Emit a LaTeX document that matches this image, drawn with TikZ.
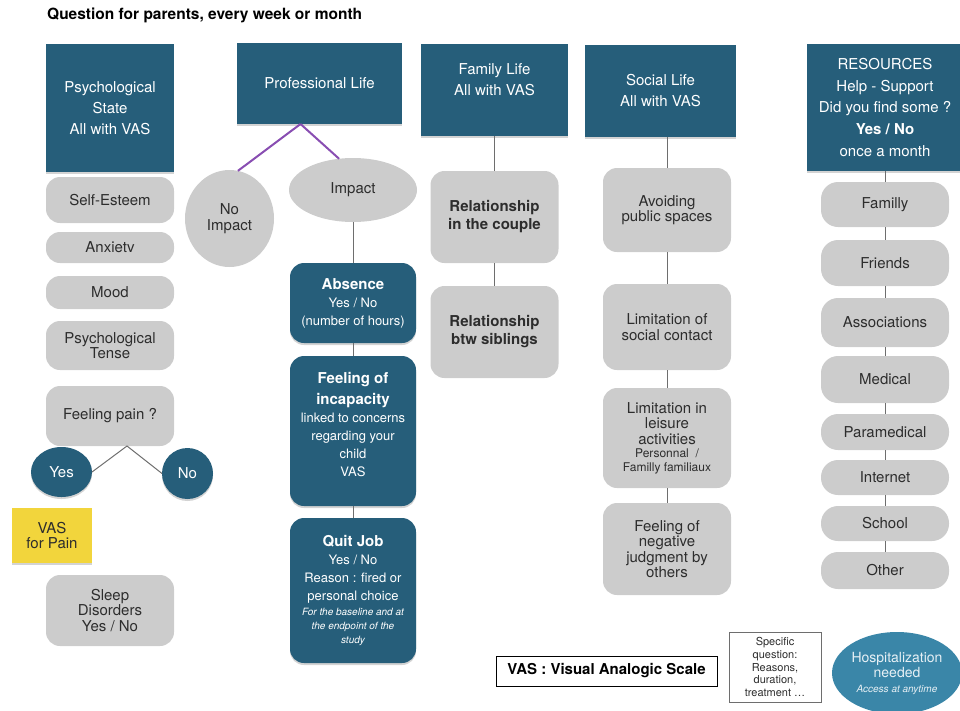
\documentclass[tikz,border=0pt]{standalone}
\usepackage{fontspec}
\setmainfont{TeX Gyre Heros}
\usetikzlibrary{
    positioning,
    shapes.geometric,
    shadows
}
\newcommand\fsz[2]{\fontsize{#1}{#2}\selectfont}
\definecolor{hdrblue}{RGB}{38,94,122}
\definecolor{hospblue}{RGB}{58,134,168}
\definecolor{boxgray}{RGB}{204,204,204}
\definecolor{txtgray}{RGB}{45,45,45}
\definecolor{pinyel}{RGB}{242,213,60}
\definecolor{linkpurple}{RGB}{137,78,178}
\definecolor{linegray}{RGB}{110,110,110}
\tikzset{
    hdr/.style = {
        rectangle,
        fill = hdrblue,
        text = white,
        inner sep = 0pt,
        outer sep = 0pt,
        align = center,
        font = \fsz{15}{21},
        drop shadow = {opacity = .35, shadow xshift = 0pt, shadow yshift = -2pt}
    },
    grey/.style = {
        rectangle,
        rounded corners = 14pt,
        fill = boxgray,
        text = txtgray,
        minimum width = 128pt,
        inner sep = 0pt,
        outer sep = 0pt,
        align = center,
        font = \fsz{15}{15.5}
    },
    pill/.style = {
        grey,
        rounded corners = 17pt
    },
    bubble/.style = {
        ellipse,
        fill = boxgray,
        text = txtgray,
        inner sep = 0pt,
        outer sep = 0pt,
        align = center,
        font = \fsz{15}{15.5}
    },
    deep/.style = {
        rectangle,
        rounded corners = 14pt,
        fill = hdrblue,
        text = white,
        minimum width = 126pt,
        inner sep = 0pt,
        outer sep = 0pt,
        align = center,
        font = \fsz{13}{18},
        drop shadow = {opacity = .35, shadow xshift = 0pt, shadow yshift = -2pt}
    },
    dot/.style = {
        ellipse,
        fill = hdrblue,
        text = white,
        inner sep = 0pt,
        outer sep = 0pt,
        font = \fsz{15}{15.5},
        drop shadow = {opacity = .35, shadow xshift = 0pt, shadow yshift = -2pt}
    },
    link/.style = {
        draw = linegray,
        line width = 1pt
    },
    prolink/.style = {
        draw = linkpurple,
        line width = 2pt
    }
}
\newcommand\bighead[1]{{\fsz{15}{22}\bfseries #1}}
\newcommand\smallnote[1]{{\fsz{10}{14.5}\itshape #1}}
\newcommand\smallline[1]{{\fsz{12}{14}#1}}

\begin{document}
\begin{tikzpicture}[
                        x = 1pt,
                        y = -1pt
                    ]
    \useasboundingbox (0,0) rectangle (960,710);

    \node[anchor = west, inner sep = 0pt, font = \fsz{15.5}{18}\bfseries] (title) at (47,15)
        {Question for parents, every week or month};

    % psychological state
    \node[hdr, minimum width = 128pt, minimum height = 128pt] (psy) at (110,108)
        {Psychological\\State\\All with VAS};
    \node[grey, minimum height = 46pt] (esteem) at (110,200) {Self-Esteem};
    \node[grey, minimum height = 31pt, below = 9pt of esteem] (anx) {Anxietv};
    \node[grey, minimum height = 33pt, below = 13pt of anx] (mood) {Mood};
    \node[grey, minimum height = 49pt, below = 12pt of mood] (tense) {Psychological\\Tense};
    \node[grey, minimum height = 60pt, below = 16pt of tense] (pain) {Feeling pain ?};
    \node[dot, minimum width = 61pt, minimum height = 50pt] (yes) at (61.5,472) {Yes};
    \node[dot, minimum width = 51pt, minimum height = 51pt] (no) at (187.5,473.5) {No};
    \node[rectangle, fill = pinyel, text = txtgray, minimum width = 80pt, minimum height = 55pt,
          inner sep = 0pt, align = center, font = \fsz{15}{15.5},
          drop shadow = {opacity = .35, shadow xshift = 0pt, shadow yshift = -2pt}]
          (vaspain) at (52,535.5) {VAS\\for Pain};
    \node[grey, minimum height = 71pt] (sleep) at (110,610.5) {Sleep\\Disorders\\Yes / No};

    \coordinate (fork) at ([xshift = 17pt]pain.south);
    \draw[link] (yes.east) -- (fork) -- (no.west);

    % professional life
    \node[hdr, minimum width = 165pt, minimum height = 81pt] (pro) at (319.5,83.5) {Professional Life};
    \node[bubble, minimum width = 89pt, minimum height = 97pt] (noimp) at (229.5,218.5) {No\\Impact};
    \node[bubble, minimum width = 128pt, minimum height = 64pt] (imp) at (353,190) {Impact};
    \node[deep, minimum height = 80pt] (abs) at (353,303)
        {\bighead{Absence}\\Yes / No\\(number of hours)};
    \node[deep, minimum height = 150pt, below = 13pt of abs] (incap)
        {\bighead{Feeling of}\\[3pt]\bighead{incapacity}\\linked to concerns\\regarding your\\child\\VAS\\[-4pt]\mbox{}};
    \node[deep, minimum height = 145pt, below = 12pt of incap] (quit)
        {\bighead{Quit Job}\\Yes / No\\Reason : fired or\\personal choice\\[-3pt]
         \smallnote{For the baseline and at}\\[-4pt]\smallnote{the endpoint of the}\\[-4pt]\smallnote{study}};

    \coordinate (split) at ([xshift = -19pt]pro.south);
    \draw[prolink] (split) -- (noimp.80);
    \draw[prolink] (split) -- (imp.114);
    \draw[link] (imp) -- (abs);
    \draw[link] (abs) -- (incap);
    \draw[link] (incap) -- (quit);

    % family life
    \node[hdr, minimum width = 147pt, minimum height = 92pt] (fam) at (494.5,90)
        {Family Life\\All with VAS\\\mbox{}};
    \node[grey, minimum height = 92pt, font = \fsz{15}{18}\bfseries, below = 35pt of fam] (couple)
        {Relationship\\in the couple};
    \node[grey, minimum height = 92pt, font = \fsz{15}{18}\bfseries, below = 23pt of couple] (sibl)
        {Relationship\\btw siblings};

    \draw[link] (fam) -- (couple);
    \draw[link] (couple) -- (sibl);

    % social life
    \node[hdr, minimum width = 151pt, minimum height = 92pt] (soc) at (660.5,91)
        {Social Life\\All with VAS};
    \node[grey, minimum height = 84pt] (avoid) at (667,210) {Avoiding\\public spaces};
    \node[grey, minimum height = 86pt, below = 32pt of avoid] (contact) {Limitation of\\social contact};
    \node[grey, minimum height = 100pt, below = 18pt of contact] (leisure)
        {Limitation in\\leisure\\activities\\[-2pt]\smallline{Personnal\ \ /}\\[-2pt]\smallline{Familly familiaux}};
    \node[grey, minimum height = 92pt, below = 15pt of leisure] (judg)
        {Feeling of\\negative\\judgment by\\others};

    \draw[link] (soc.south -| avoid) -- (avoid);
    \foreach \a/\b in {avoid/contact, contact/leisure, leisure/judg}
        \draw[link] (\a) -- (\b);

    % resources
    \node[hdr, minimum width = 156pt, minimum height = 127pt, font = \fsz{15}{21.7}] (res) at (885,107.5)
        {RESOURCES\\Help - Support\\Did you find some ?\\\textbf{Yes / No}\\once a month};
    \node[pill, minimum height = 45pt] (r1) at (885,204.5) {Familly};
    \node[pill, minimum height = 46pt, below = 13pt of r1] (r2) {Friends};
    \node[pill, minimum height = 49pt, below = 12pt of r2] (r3) {Associations};
    \node[pill, minimum height = 47pt, below = 9pt of r3] (r4) {Medical};
    \node[pill, minimum height = 36pt, below = 11pt of r4] (r5) {Paramedical};
    \node[pill, minimum height = 35pt, below = 10pt of r5] (r6) {Internet};
    \node[pill, minimum height = 35pt, below = 11pt of r6] (r7) {School};
    \node[pill, minimum height = 37pt, below = 11pt of r7] (r8) {Other};

    \foreach \a/\b in {res/r1, r1/r2, r2/r3, r3/r4, r4/r5, r5/r6, r6/r7, r7/r8}
        \draw[link] (\a) -- (\b);

    % legend
    \node[draw = black, line width = 1pt, minimum width = 221pt, minimum height = 30pt,
          inner sep = 0pt, font = \fsz{15}{18}\bfseries] (vas) at (606.5,671)
        {VAS : Visual Analogic Scale};
    \node[draw = linegray, line width = .8pt, minimum width = 92pt, minimum height = 70pt,
          inner sep = 0pt, align = center, text = txtgray, font = \fsz{11}{12.8}] (spec) at (775,667)
        {Specific\\question:\\Reasons,\\duration,\\treatment \dots};
    \node[ellipse, fill = hospblue, text = white!88!hospblue, minimum width = 130pt, minimum height = 82pt,
          inner sep = 0pt, align = center, font = \fsz{14}{15}] (hosp) at (897,673)
        {Hospitalization\\needed\\\smallnote{Access at anytime}};
\end{tikzpicture}
\end{document}
